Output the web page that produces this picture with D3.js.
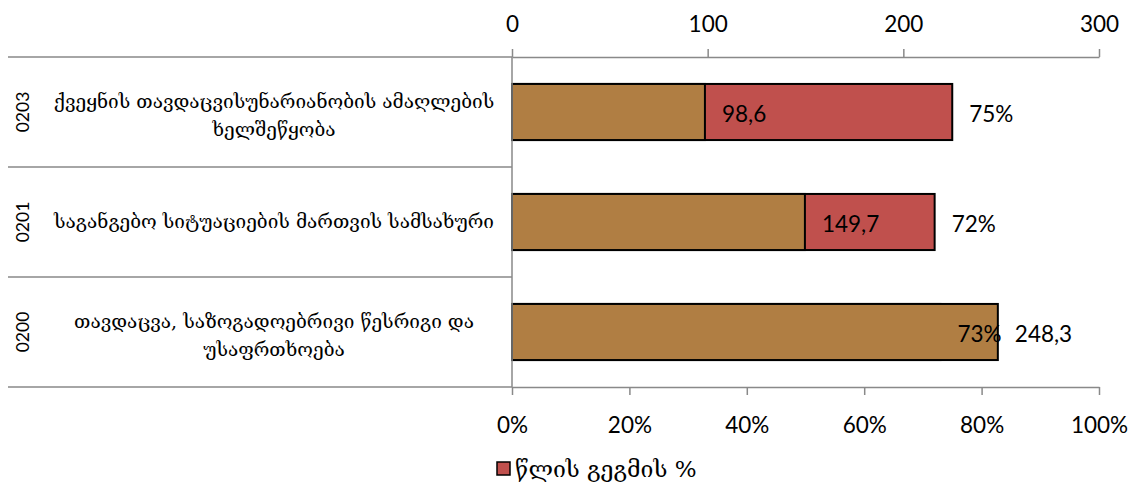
<!DOCTYPE html>
<html>
<head>
<meta charset="utf-8">
<script src="https://cdn.jsdelivr.net/npm/d3@7"></script>
<style>
  html, body { margin: 0; padding: 0; background: #fff; }
  svg { display: block; }
  .num { font-family: Lato, "Open Sans", sans-serif; fill: #000; }
  .geo { font-family: "DejaVu Serif", "DejaVu Sans", serif; fill: #000; }
</style>
</head>
<body>
<svg id="chart" width="1132" height="486"></svg>
<script>
// Budget programme codes and names (top to bottom)
const codes = ["0203", "0201", "0200"];
const names = [
  ["ქვეყნის თავდაცვისუნარიანობის ამაღლების", "ხელშეწყობა"],
  ["საგანგებო სიტუაციების მართვის სამსახური"],
  ["თავდაცვა, საზოგადოებრივი წესრიგი და", "უსაფრთხოება"]
];
// Executed amount (top axis) and share of the annual plan, % (bottom axis)
const amounts = [98.6, 149.7, 248.3];
const planPct = [75, 72, 73];
const amountLabels = ["98,6", "149,7", "248,3"];
const pctLabels = ["75%", "72%", "73%"];
const topTicks = [0, 100, 200, 300];
const bottomTicks = [0, 20, 40, 60, 80, 100];
const legendLabel = "წლის გეგმის %";

const brown = "#B07E43";
const red = "#C0504D";
const axisGray = "#898989";

const svg = d3.select("#chart");
const plotL = 512, plotR = 1099, plotT = 57, plotB = 387;

const xVal = d3.scaleLinear().domain([0, 300]).range([plotL, plotR]);
const xPct = d3.scaleLinear().domain([0, 100]).range([plotL, plotR]);
const y = d3.scaleBand().domain(codes).range([plotT, plotB])
  .paddingInner(0.49).paddingOuter(0.245);
const step = y.step();
const bandTop = c => y(c) - y.paddingInner() * step / 2;

// category separators across the label area
const seps = codes.map(bandTop).concat([plotB]);
svg.append("g").selectAll("line").data(seps).join("line")
  .attr("x1", 8).attr("x2", plotL)
  .attr("y1", d => d).attr("y2", d => d)
  .attr("stroke", axisGray).attr("stroke-width", 1.5);

// percent of plan bars (behind)
svg.append("g").selectAll("rect").data(codes).join("rect")
  .attr("x", xPct(0)).attr("y", c => y(c))
  .attr("width", (c, i) => xPct(planPct[i]) - xPct(0))
  .attr("height", y.bandwidth())
  .attr("fill", red).attr("stroke", "#000").attr("stroke-width", 2);

// executed amount bars (front)
svg.append("g").selectAll("rect").data(codes).join("rect")
  .attr("x", xVal(0)).attr("y", c => y(c))
  .attr("width", (c, i) => xVal(amounts[i]) - xVal(0))
  .attr("height", y.bandwidth())
  .attr("fill", brown).attr("stroke", "#000").attr("stroke-width", 2);

// axes
const topAxis = svg.append("g").attr("transform", `translate(0,${plotT})`)
  .call(d3.axisTop(xVal).tickValues(topTicks).tickSize(8).tickSizeOuter(0).tickPadding(17));
const bottomAxis = svg.append("g").attr("transform", `translate(0,${plotB})`)
  .call(d3.axisBottom(xPct).tickValues(bottomTicks).tickSize(8).tickSizeOuter(0)
    .tickPadding(22).tickFormat(d => d + "%"));
[topAxis, bottomAxis].forEach(g => {
  g.select(".domain").attr("stroke", axisGray).attr("stroke-width", 1.5);
  g.selectAll(".tick line").attr("stroke", axisGray).attr("stroke-width", 1.5);
  g.selectAll(".tick text").attr("class", "num").attr("font-size", 22.5)
    .attr("fill", "#000");
});

// category axis line
svg.append("line").attr("x1", plotL).attr("x2", plotL)
  .attr("y1", plotT).attr("y2", plotB)
  .attr("stroke", axisGray).attr("stroke-width", 1.5);

// data labels
const lab = svg.append("g");
codes.forEach((c, i) => {
  const cy = y(c) + y.bandwidth() / 2;
  lab.append("text").attr("class", "num").attr("font-size", 22.5)
    .attr("x", xVal(amounts[i]) + 17).attr("y", cy + 10).text(amountLabels[i]);
  lab.append("text").attr("class", "num").attr("font-size", 22.5)
    .attr("x", xPct(planPct[i]) + 17).attr("y", cy + 10).text(pctLabels[i]);
});

// category labels: code (rotated) and name
const cat = svg.append("g");
codes.forEach((c, i) => {
  const cy = y(c) + y.bandwidth() / 2;
  cat.append("text").attr("class", "num").attr("font-size", 17.5)
    .attr("text-anchor", "middle")
    .attr("transform", `translate(28.5,${cy}) rotate(-90)`)
    .text(c);
  const lines = names[i];
  const lh = 28;
  const shift = lines.length > 1 ? 4 : 0;
  lines.forEach((t, k) => {
    cat.append("text").attr("class", "geo").attr("font-size", 19)
      .attr("text-anchor", "middle")
      .attr("x", 274)
      .attr("y", cy + 6 + shift + (k - (lines.length - 1) / 2) * lh)
      .text(t);
  });
});

// legend
const leg = svg.append("g");
leg.append("rect").attr("x", 497).attr("y", 462).attr("width", 13).attr("height", 13)
  .attr("fill", red).attr("stroke", "#000").attr("stroke-width", 1.5);
leg.append("text").attr("class", "geo").attr("font-size", 23)
  .attr("x", 515).attr("y", 477).text(legendLabel);
</script>
</body>
</html>
